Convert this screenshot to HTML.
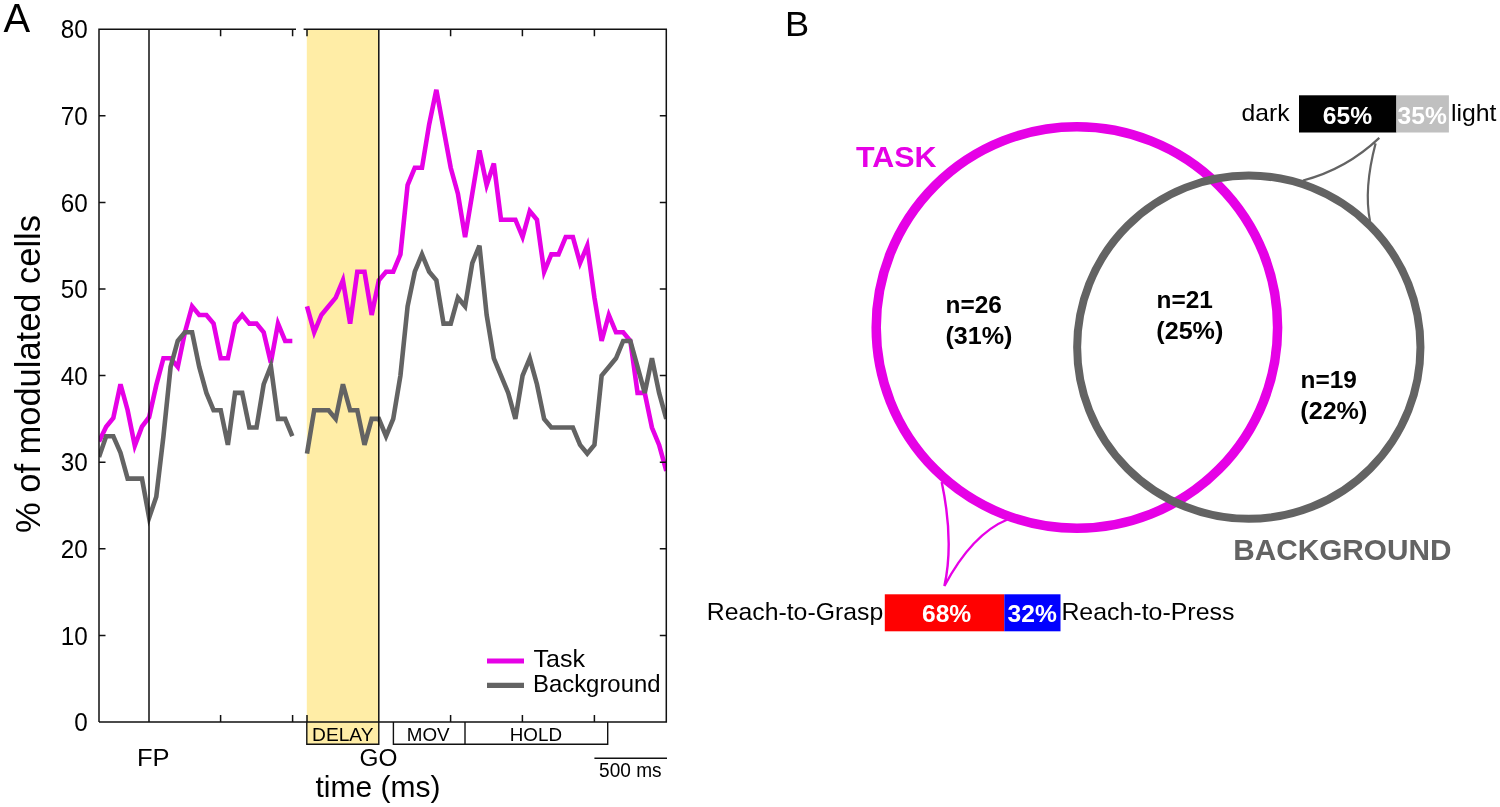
<!DOCTYPE html>
<html><head><meta charset="utf-8"><title>Figure</title>
<style>html,body{margin:0;padding:0;background:#fff;}svg{display:block;will-change:transform;opacity:0.999;}text{font-family:"Liberation Sans",sans-serif;fill:#000;}.b{font-weight:bold;}</style></head><body>
<svg width="1500" height="807" viewBox="0 0 1500 807">
<rect x="0" y="0" width="1500" height="807" fill="#fff"/>
<text transform="translate(3.6,32.4) scale(0.97,1)" font-size="41.2">A</text>
<rect x="306.8" y="29.2" width="72" height="715.0" fill="#ffeda6"/>
<clipPath id="pc"><rect x="99.0" y="29.2" width="567.30" height="692.80"/></clipPath>
<g clip-path="url(#pc)">
<polyline points="99.00,441.42 106.16,426.69 113.32,418.03 120.48,384.26 127.64,410.24 134.80,445.75 141.96,426.69 149.12,417.17 156.28,385.13 163.44,358.28 170.60,358.28 177.76,366.94 184.92,332.30 192.08,306.32 199.24,314.98 206.40,314.98 213.56,323.64 220.72,358.28 227.88,358.28 235.04,323.64 242.20,314.98 249.36,323.64 256.52,323.64 263.68,332.30 270.84,362.61 278.00,323.64 285.16,340.96 292.32,340.96" fill="none" stroke="#e600e6" stroke-width="4.6" stroke-linejoin="miter" stroke-linecap="butt"/>
<polyline points="307.00,306.32 314.19,332.30 321.37,314.98 328.56,306.32 335.74,297.66 342.93,280.34 350.12,323.64 357.30,271.68 364.49,271.68 371.67,314.98 378.86,280.34 386.05,271.68 393.23,271.68 400.42,254.36 407.60,185.08 414.79,167.76 421.98,167.76 429.16,124.46 436.35,89.82 443.53,128.79 450.72,167.76 457.91,193.74 465.09,237.04 472.28,193.74 479.46,150.44 486.65,185.08 493.84,163.43 501.02,219.72 508.21,219.72 515.39,219.72 522.58,237.04 529.77,211.06 536.95,219.72 544.14,271.68 551.32,254.36 558.51,254.36 565.70,237.04 572.88,237.04 580.07,263.02 587.25,245.70 594.44,297.66 601.63,340.96 608.81,314.98 616.00,332.30 623.18,332.30 630.37,340.96 637.56,392.92 644.74,392.92 651.93,427.56 659.11,444.88 666.30,470.86" fill="none" stroke="#e600e6" stroke-width="4.6" stroke-linejoin="miter" stroke-linecap="butt"/>
<polyline points="99.00,457.00 106.16,436.22 113.32,436.22 120.48,452.67 127.64,478.65 134.80,478.65 141.96,478.65 149.12,517.62 156.28,496.84 163.44,436.22 170.60,366.94 177.76,340.96 184.92,332.30 192.08,332.30 199.24,366.94 206.40,392.92 213.56,410.24 220.72,410.24 227.88,444.88 235.04,392.92 242.20,392.92 249.36,427.56 256.52,427.56 263.68,384.26 270.84,366.07 278.00,418.90 285.16,418.90 292.32,436.22" fill="none" stroke="#636363" stroke-width="4.6" stroke-linejoin="miter" stroke-linecap="butt"/>
<polyline points="307.00,453.54 314.19,410.24 321.37,410.24 328.56,410.24 335.74,418.90 342.93,384.26 350.12,410.24 357.30,410.24 364.49,444.88 371.67,418.90 378.86,418.90 386.05,436.22 393.23,418.90 400.42,375.60 407.60,306.32 414.79,271.68 421.98,254.36 429.16,271.68 436.35,280.34 443.53,323.64 450.72,323.64 457.91,297.66 465.09,306.32 472.28,263.02 479.46,245.70 486.65,314.98 493.84,358.28 501.02,375.60 508.21,392.92 515.39,418.90 522.58,375.60 529.77,358.28 536.95,384.26 544.14,418.90 551.32,427.56 558.51,427.56 565.70,427.56 572.88,427.56 580.07,444.88 587.25,453.54 594.44,444.88 601.63,375.60 608.81,366.94 616.00,358.28 623.18,340.96 630.37,340.96 637.56,366.94 644.74,392.92 651.93,358.28 659.11,392.92 666.30,418.90" fill="none" stroke="#636363" stroke-width="4.6" stroke-linejoin="miter" stroke-linecap="butt"/>
</g>
<g fill="none" stroke="#111111" stroke-width="1.4">
<path d="M306.8 722.0 V744.2 H378.8 V722.0"/>
<path d="M393.4 722.0 V744.2 H607.7 V722.0 M465 722.0 V744.2"/>
</g>
<g fill="none" stroke="#111111" stroke-width="1.5">
<path d="M99.0 722.0 V29.2 H296 M303.6 29.2 H666.3 V722.0 H99.0"/>
<path d="M149 29.2 V722.0 M378.8 29.2 V722.0"/>
<path d="M220.6 29.2 v7 M220.6 722.0 v-7 M292.6 29.2 v7 M292.6 722.0 v-7 M307.0 29.2 v7 M307.0 722.0 v-7 M450.6 29.2 v7 M450.6 722.0 v-7 M522.4 29.2 v7 M522.4 722.0 v-7 M594.4 29.2 v7 M594.4 722.0 v-7 "/>
<path d="M99.0 635.40 h6.5 M666.3 635.40 h-6.5 M99.0 548.80 h6.5 M666.3 548.80 h-6.5 M99.0 462.20 h6.5 M666.3 462.20 h-6.5 M99.0 375.60 h6.5 M666.3 375.60 h-6.5 M99.0 289.00 h6.5 M666.3 289.00 h-6.5 M99.0 202.40 h6.5 M666.3 202.40 h-6.5 M99.0 115.80 h6.5 M666.3 115.80 h-6.5 "/>
</g>
<text transform="translate(87.8,731.1) scale(0.955,1)" font-size="25.4" text-anchor="end">0</text>
<text transform="translate(87.8,644.5) scale(0.955,1)" font-size="25.4" text-anchor="end">10</text>
<text transform="translate(87.8,557.9) scale(0.955,1)" font-size="25.4" text-anchor="end">20</text>
<text transform="translate(87.8,471.3) scale(0.955,1)" font-size="25.4" text-anchor="end">30</text>
<text transform="translate(87.8,384.7) scale(0.955,1)" font-size="25.4" text-anchor="end">40</text>
<text transform="translate(87.8,298.1) scale(0.955,1)" font-size="25.4" text-anchor="end">50</text>
<text transform="translate(87.8,211.5) scale(0.955,1)" font-size="25.4" text-anchor="end">60</text>
<text transform="translate(87.8,124.9) scale(0.955,1)" font-size="25.4" text-anchor="end">70</text>
<text transform="translate(87.8,38.3) scale(0.955,1)" font-size="25.4" text-anchor="end">80</text>
<text transform="translate(39.7,533) rotate(-90)" font-size="34.4" textLength="318" lengthAdjust="spacingAndGlyphs">% of modulated cells</text>
<path d="M487 661 H524" stroke="#e600e6" stroke-width="5.2"/>
<path d="M487 685.4 H524" stroke="#636363" stroke-width="5.2"/>
<text x="533.5" y="667.2" font-size="24.2" textLength="51.5" lengthAdjust="spacingAndGlyphs">Task</text>
<text x="533" y="691.6" font-size="24.2" textLength="127.5" lengthAdjust="spacingAndGlyphs">Background</text>
<text x="342.8" y="741.4" font-size="18.8" text-anchor="middle" textLength="61.4" lengthAdjust="spacingAndGlyphs">DELAY</text>
<text x="428.2" y="741.4" font-size="18.8" text-anchor="middle">MOV</text>
<text x="535.9" y="741.4" font-size="18.8" text-anchor="middle">HOLD</text>
<text transform="translate(153.2,765.6) scale(1.1,1)" font-size="23.2" text-anchor="middle">FP</text>
<text transform="translate(378.4,765.5) scale(1.06,1)" font-size="23.0" text-anchor="middle">GO</text>
<text x="378" y="796.5" font-size="29.6" text-anchor="middle" textLength="125" lengthAdjust="spacingAndGlyphs">time (ms)</text>
<path d="M594.4 758.3 H667" stroke="#111111" stroke-width="1.5"/>
<text x="630.3" y="777.4" font-size="19.6" text-anchor="middle" textLength="62.5" lengthAdjust="spacingAndGlyphs">500 ms</text>
<text transform="translate(785.1,36) scale(1.02,1)" font-size="35.5">B</text>
<circle cx="1076.9" cy="327.5" r="200.7" fill="none" stroke="#e600e6" stroke-width="9.5"/>
<circle cx="1248.8" cy="347.2" r="171.65" fill="none" stroke="#636363" stroke-width="8"/>
<path d="M941.7 482 Q954.2 541.7 944.4 586 Q972.2 533.9 1007.5 519.5" fill="none" stroke="#e600e6" stroke-width="2.4" stroke-linejoin="bevel"/>
<path d="M1303 180.5 Q1346 169.4 1379.3 137.9 M1375.6 143.4 Q1363.6 189 1370 221" fill="none" stroke="#636363" stroke-width="2.2"/>
<text x="856" y="167.4" font-size="29.4" textLength="80.6" lengthAdjust="spacingAndGlyphs" class="b" fill="#e600e6" style="fill:#e600e6">TASK</text>
<text x="1233.2" y="559.6" font-size="29.4" textLength="218.2" lengthAdjust="spacingAndGlyphs" class="b" fill="#636363" style="fill:#636363">BACKGROUND</text>
<text transform="translate(945.6,313.2) scale(1.0,1)" font-size="24.4" class="b">n=26</text>
<text transform="translate(945.4,344.1) scale(1.03,1)" font-size="24.4" class="b">(31%)</text>
<text transform="translate(1156.5,307.9) scale(1.0,1)" font-size="24.4" class="b">n=21</text>
<text transform="translate(1156.3,338.8) scale(1.03,1)" font-size="24.4" class="b">(25%)</text>
<text transform="translate(1300.5,387.9) scale(1.0,1)" font-size="24.4" class="b">n=19</text>
<text transform="translate(1300.3,418.8) scale(1.03,1)" font-size="24.4" class="b">(22%)</text>
<rect x="1299" y="95.3" width="97.4" height="37.2" fill="#000"/>
<rect x="1396.4" y="95.3" width="52.5" height="37.2" fill="#c0c0c0"/>
<text transform="translate(1347.5,124) scale(1.01,1)" font-size="24.4" text-anchor="middle" class="b" fill="#fff" style="fill:#fff">65%</text>
<text transform="translate(1422.2,124) scale(1.01,1)" font-size="24.4" text-anchor="middle" class="b" fill="#fff" style="fill:#fff">35%</text>
<text x="1241.5" y="121.3" font-size="24" textLength="48" lengthAdjust="spacingAndGlyphs">dark</text>
<text x="1451" y="121.3" font-size="24" textLength="45.5" lengthAdjust="spacingAndGlyphs">light</text>
<rect x="884.8" y="594.3" width="119.5" height="37" fill="#ff0000"/>
<rect x="1004.3" y="594.3" width="56.2" height="37" fill="#0000ff"/>
<text transform="translate(946.6,622.4) scale(1.01,1)" font-size="24.4" text-anchor="middle" class="b" fill="#fff" style="fill:#fff">68%</text>
<text transform="translate(1032.2,622.4) scale(1.01,1)" font-size="24.4" text-anchor="middle" class="b" fill="#fff" style="fill:#fff">32%</text>
<text x="706.8" y="619.6" font-size="24.6" textLength="176.4" lengthAdjust="spacingAndGlyphs">Reach-to-Grasp</text>
<text x="1061.4" y="619.6" font-size="24.6" textLength="173" lengthAdjust="spacingAndGlyphs">Reach-to-Press</text>
</svg></body></html>
